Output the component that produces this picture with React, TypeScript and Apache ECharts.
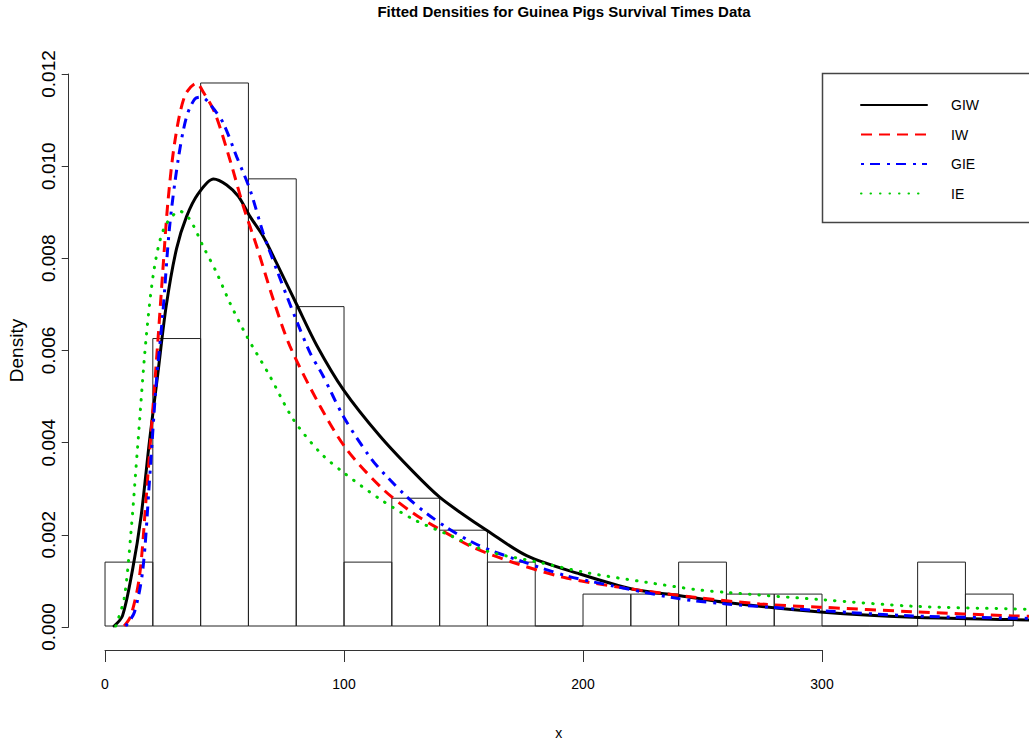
import React, { useEffect, useRef } from "react";
import * as echarts from "echarts";

const titleText = "Fitted Densities for Guinea Pigs Survival Times Data";
const seriesNames = ["GIW", "IW", "GIE", "IE"];

const histBreaks = [0, 20, 40, 60, 80, 100, 120, 140, 160, 180, 200, 220, 240, 260, 280, 300, 320, 340, 360, 380];
const histDensity = [0.001389, 0.00625, 0.011806, 0.009722, 0.006944, 0.001389, 0.002778, 0.002083, 0.001389, 0, 0.000694, 0.000694, 0.001389, 0.000694, 0.000694, 0, 0, 0.001389, 0.000694];

const xTickValues = [0, 100, 200, 300];

const giwX = [3.8, 7.3, 11.5, 15.1, 18.6, 22.1, 25.6, 29.9, 34.1, 39, 45.4, 50.9, 55.8, 60.7, 66.2, 71.8, 80.2, 88.6, 99.7, 115, 129, 140, 150, 160, 176.4, 198.7, 221, 240.6, 260, 300.5, 338, 380, 395];
const giwY = [0, 0.00022, 0.00122, 0.00239, 0.00402, 0.00549, 0.00696, 0.0082, 0.0089, 0.0094, 0.00972, 0.00959, 0.00934, 0.0089, 0.00847, 0.00789, 0.00699, 0.0061, 0.00514, 0.00413, 0.00335, 0.0028, 0.00242, 0.00207, 0.00153, 0.00113, 0.0008, 0.00066, 0.00051, 0.0003, 0.00019, 0.00014, 0.00012];

const iwX = [8, 10.8, 14.4, 17.2, 20, 22.1, 24.2, 26.3, 29.2, 33.4, 38.3, 41.1, 46, 52.3, 57.9, 63.5, 70.4, 77.4, 90, 101.1, 116.4, 129, 138.8, 154, 170.8, 191.8, 215.5, 247.6, 274, 299, 338, 380, 395];
const iwY = [0, 0.00022, 0.00107, 0.00278, 0.00471, 0.00619, 0.00774, 0.00921, 0.01053, 0.01153, 0.0118, 0.01161, 0.01115, 0.01013, 0.00912, 0.00825, 0.0071, 0.00608, 0.00478, 0.00384, 0.00297, 0.00245, 0.00214, 0.00171, 0.00138, 0.00106, 0.00084, 0.00062, 0.00048, 0.00041, 0.00031, 0.00022, 0.0002];

const gieX = [8.7, 12.3, 15.8, 18.6, 21.4, 24.2, 27, 30.6, 34.1, 37.6, 40.4, 44.6, 49.5, 55.1, 60.7, 66.2, 71.8, 78.8, 85.8, 91.3, 99.7, 109.5, 115, 129, 143, 156.9, 173.6, 193.2, 212.7, 240.6, 260, 300.5, 338, 380, 395];
const gieY = [0, 0.0003, 0.00122, 0.00316, 0.00526, 0.00681, 0.00867, 0.01014, 0.01107, 0.01146, 0.0115, 0.0113, 0.01093, 0.0102, 0.00948, 0.00854, 0.00775, 0.00681, 0.00594, 0.00543, 0.00456, 0.00377, 0.00341, 0.00268, 0.00214, 0.00174, 0.00142, 0.00109, 0.00087, 0.00059, 0.00048, 0.00033, 0.00022, 0.00017, 0.00016];

const ieX = [4.5, 8, 10.8, 13.7, 17.2, 20.7, 24.9, 31.3, 35.6, 41.1, 46.7, 52.3, 59.3, 69, 78.8, 90, 99.7, 115, 129, 143, 159.7, 182, 201.5, 226.6, 247.6, 260, 300.5, 338, 380, 395];
const ieY = [0, 0.0006, 0.002, 0.00394, 0.00626, 0.00781, 0.00867, 0.00902, 0.00883, 0.00825, 0.00768, 0.00702, 0.0063, 0.00543, 0.00449, 0.00377, 0.00334, 0.00276, 0.00232, 0.002, 0.00163, 0.00138, 0.00116, 0.00095, 0.00079, 0.00073, 0.00057, 0.00043, 0.00037, 0.00035];

const sans = "'Liberation Sans', Arial, sans-serif";

export default function App() {
  const ref = useRef<HTMLDivElement>(null);

  useEffect(() => {
    if (!ref.current) return;
    const chart = echarts.init(ref.current, undefined, { renderer: "svg" });

    const bins = histDensity.map((d, i) => [histBreaks[i], histBreaks[i + 1], d]);
    const pairs = (xs: number[], ys: number[]) => xs.map((x, i) => [x, ys[i]]);

    const lineSeries = (name: string, xs: number[], ys: number[], color: string, type: any, cap: string, z: number) => ({
      name,
      type: "line",
      xAxisIndex: 0,
      yAxisIndex: 0,
      data: pairs(xs, ys),
      symbol: "none",
      smooth: 0.3,
      silent: true,
      z,
      itemStyle: { color },
      lineStyle: { color, width: 3, type, cap },
    });

    const option: any = {
      animation: false,
      backgroundColor: "#ffffff",
      title: {
        text: titleText,
        left: 559,
        top: -1,
        textAlign: "center",
        textStyle: { fontFamily: sans, fontWeight: "bold", fontSize: 15, color: "#000" },
      },
      grid: [
        { left: 68.7, top: 29, right: 0, height: 621 },
        { left: 105, top: 649, width: 717, height: 1 },
        { left: 68.7, top: 74, width: 1, height: 553 },
      ],
      xAxis: [
        {
          gridIndex: 0,
          type: "value",
          min: -15.2,
          max: 386.6,
          axisLine: { show: false },
          axisTick: { show: false },
          axisLabel: { show: false },
          splitLine: { show: false },
          name: "x",
          nameLocation: "middle",
          nameGap: 77,
          nameTextStyle: { fontFamily: sans, fontSize: 14, color: "#000", padding: [0, 0, 0, 20] },
        },
        {
          gridIndex: 1,
          type: "value",
          min: xTickValues[0],
          max: xTickValues[xTickValues.length - 1],
          interval: 100,
          axisLine: { show: true, lineStyle: { color: "#333", width: 1 } },
          axisTick: { show: true, length: 12, lineStyle: { color: "#333", width: 1 } },
          axisLabel: { margin: 27, fontFamily: sans, fontSize: 14, color: "#000" },
          splitLine: { show: false },
        },
        { gridIndex: 2, type: "value", show: false },
      ],
      yAxis: [
        { gridIndex: 0, type: "value", min: -0.0005, max: 0.01298, show: false },
        { gridIndex: 1, type: "value", show: false },
        {
          gridIndex: 2,
          type: "value",
          min: 0,
          max: 0.012,
          interval: 0.002,
          axisLine: { show: true, lineStyle: { color: "#333", width: 1 } },
          axisTick: { show: true, length: 7, lineStyle: { color: "#333", width: 1 } },
          axisLabel: {
            rotate: 90,
            margin: 11,
            fontFamily: sans,
            fontSize: 19,
            color: "#000",
            formatter: (v: number) => v.toFixed(3),
          },
          splitLine: { show: false },
          name: "Density",
          nameLocation: "middle",
          nameRotate: 90,
          nameGap: 43,
          nameTextStyle: { fontFamily: sans, fontSize: 19, color: "#000" },
        },
      ],
      legend: {
        data: seriesNames,
        orient: "vertical",
        left: 855,
        top: 93,
        itemWidth: 66,
        itemHeight: 16,
        itemGap: 15.5,
        itemStyle: { opacity: 0 },
        textStyle: { fontFamily: sans, fontSize: 14, color: "#000", padding: [0, 0, 0, 19] },
      },
      graphic: [
        {
          type: "rect",
          x: 822.5,
          y: 73.5,
          shape: { width: 260, height: 149 },
          style: { fill: "none", stroke: "#444", lineWidth: 1.5 },
          z: 0,
          silent: true,
        },
      ],
      series: [
        {
          type: "custom",
          xAxisIndex: 0,
          yAxisIndex: 0,
          data: bins,
          silent: true,
          z: 1,
          encode: { x: [0, 1], y: 2 },
          renderItem: (params: any, api: any) => {
            const x0 = api.value(0);
            const x1 = api.value(1);
            const h = api.value(2);
            const p0 = api.coord([x0, 0]);
            const p1 = api.coord([x1, h]);
            return {
              type: "polygon",
              shape: { points: [[p0[0], p0[1]], [p0[0], p1[1]], [p1[0], p1[1]], [p1[0], p0[1]]] },
              style: { fill: "none", stroke: "#222", lineWidth: 1 },
            };
          },
        },
        lineSeries("GIW", giwX, giwY, "#000000", "solid", "round", 2),
        lineSeries("IW", iwX, iwY, "#ff0000", [11, 7], "butt", 3),
        lineSeries("GIE", gieX, gieY, "#0000ff", [3, 6, 10, 7], "butt", 4),
        lineSeries("IE", ieX, ieY, "#00cd00", [0.5, 9], "round", 5),
      ],
    };

    chart.setOption(option);
    return () => chart.dispose();
  }, []);

  return (
    <div
      ref={ref}
      style={{ position: "absolute", left: 0, top: 0, width: 1029, height: 745, background: "#fff" }}
    />
  );
}
